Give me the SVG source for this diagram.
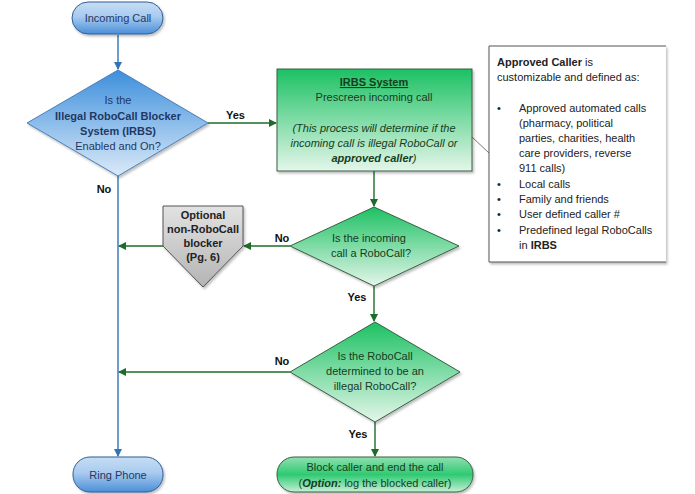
<svg xmlns="http://www.w3.org/2000/svg" width="695" height="494" viewBox="0 0 695 494">
<defs>
<linearGradient id="gBlueTerm" x1="0" y1="0" x2="0" y2="1"><stop offset="0" stop-color="#c6ddf4"/><stop offset="0.45" stop-color="#a9cbef"/><stop offset="1" stop-color="#4a8fd8"/></linearGradient>
<linearGradient id="gBlueDia" x1="0" y1="0" x2="0" y2="1"><stop offset="0" stop-color="#3d8fdc"/><stop offset="1" stop-color="#dbeaf8"/></linearGradient>
<linearGradient id="gGreen" x1="0" y1="0" x2="0" y2="1"><stop offset="0" stop-color="#1cc163"/><stop offset="1" stop-color="#e4f6ea"/></linearGradient>
<linearGradient id="gGreenTerm" x1="0" y1="0" x2="0" y2="1"><stop offset="0" stop-color="#8fe0b0"/><stop offset="0.5" stop-color="#2fca72"/><stop offset="1" stop-color="#c6efd6"/></linearGradient>
<linearGradient id="gGray" x1="0" y1="0" x2="0" y2="1"><stop offset="0" stop-color="#e2e2e2"/><stop offset="1" stop-color="#b4b4b4"/></linearGradient>
<marker id="aBlue" markerWidth="8" markerHeight="8" refX="7" refY="4" orient="auto" markerUnits="userSpaceOnUse"><path d="M0,0 L8,4 L0,8 z" fill="#2e75b6"/></marker>
<marker id="aGreen" markerWidth="8" markerHeight="8" refX="7" refY="4" orient="auto" markerUnits="userSpaceOnUse"><path d="M0,0 L8,4 L0,8 z" fill="#1f6b2a"/></marker>
<filter id="sh" x="-10%" y="-10%" width="125%" height="130%"><feDropShadow dx="1.5" dy="2" stdDeviation="1.2" flood-color="#000" flood-opacity="0.25"/></filter>
</defs>
<style>
text{font-family:"Liberation Sans",Arial,sans-serif;font-size:11px}
.c{text-anchor:middle}
.b{font-weight:bold}
.i{font-style:italic}
.lbl{font-weight:bold;fill:#111}
.nb{fill:#1f3864}
.ng{fill:#163d20}
.bl{stroke:#2e75b6;stroke-width:1.4;fill:none}
.gr{stroke:#1f6b2a;stroke-width:1.4;fill:none}
</style>

<g id="connectors">
<line class="bl" x1="118" y1="35" x2="118" y2="69" marker-end="url(#aBlue)"/>
<line class="bl" x1="118" y1="176" x2="118" y2="456" marker-end="url(#aBlue)"/>
<line class="gr" x1="208" y1="123" x2="276" y2="123" marker-end="url(#aGreen)"/>
<line class="gr" x1="374" y1="171" x2="374" y2="206" marker-end="url(#aGreen)"/>
<line class="gr" x1="290" y1="246" x2="244" y2="246" marker-end="url(#aGreen)"/>
<line class="gr" x1="163" y1="246" x2="119" y2="246" marker-end="url(#aGreen)"/>
<line class="gr" x1="374" y1="286" x2="374" y2="321" marker-end="url(#aGreen)"/>
<line class="gr" x1="290" y1="372" x2="119" y2="372" marker-end="url(#aGreen)"/>
<line class="gr" x1="375" y1="422" x2="375" y2="456" marker-end="url(#aGreen)"/>
<line x1="472" y1="137" x2="489" y2="153" stroke="#777" stroke-width="1"/>
<text class="lbl" x="226" y="119">Yes</text>
<text class="lbl c" x="104" y="193">No</text>
<text class="lbl c" x="282" y="242">No</text>
<text class="lbl c" x="357" y="301">Yes</text>
<text class="lbl c" x="282" y="365">No</text>
<text class="lbl c" x="358" y="438">Yes</text>
</g>

<g id="incoming">
<rect x="72" y="2" width="91" height="32" rx="16" fill="url(#gBlueTerm)" stroke="#2f5f95" stroke-width="1" filter="url(#sh)"/>
<text class="c nb" x="118" y="22">Incoming Call</text>
</g>

<g id="decision-irbs">
<polygon points="118,70 208,123 118,176 27,123" fill="url(#gBlueDia)" stroke="#4a7fb8" stroke-width="1" filter="url(#sh)"/>
<text class="c nb" x="118" y="104">Is the</text>
<text class="c nb b" x="118" y="120">Illegal RoboCall Blocker</text>
<text class="c nb b" x="118" y="135">System (IRBS)</text>
<text class="c nb" x="118" y="150">Enabled and On?</text>
</g>

<g id="irbs-system">
<rect x="277" y="69" width="195" height="102" fill="url(#gGreen)" stroke="#3a5f42" stroke-width="1" filter="url(#sh)"/>
<text class="c ng b" x="374" y="86" text-decoration="underline">IRBS System</text>
<text class="c ng" x="374" y="101">Prescreen incoming call</text>
<text class="c ng i" x="374" y="132">(This process will determine if the</text>
<text class="c ng i" x="374" y="147">incoming call is illegal RoboCall or</text>
<text class="c ng i" x="374" y="162"><tspan class="b">approved caller</tspan>)</text>
</g>

<g id="approved-caller-note">
<path d="M666,46 H489 V262 H666" fill="#fff" stroke="#555" stroke-width="1" filter="url(#sh)"/>
<text x="497" y="66" fill="#222"><tspan class="b">Approved Caller</tspan> is</text>
<text x="497" y="81" fill="#222">customizable and defined as:</text>
<g fill="#222">
<text x="497" y="112">•</text><text x="519" y="112">Approved automated calls</text>
<text x="519" y="127">(pharmacy, political</text>
<text x="519" y="142">parties, charities, health</text>
<text x="519" y="157">care providers, reverse</text>
<text x="519" y="172">911 calls)</text>
<text x="497" y="188">•</text><text x="519" y="188">Local calls</text>
<text x="497" y="203">•</text><text x="519" y="203">Family and friends</text>
<text x="497" y="218">•</text><text x="519" y="218">User defined caller #</text>
<text x="497" y="234">•</text><text x="519" y="234">Predefined legal RoboCalls</text>
<text x="519" y="249">in <tspan class="b">IRBS</tspan></text>
</g>
</g>

<g id="decision-robocall">
<polygon points="374,207 459,246 374,286 290,246" fill="url(#gGreen)" stroke="#3a5f42" stroke-width="1" filter="url(#sh)"/>
<text class="c ng" x="369" y="242">Is the incoming</text>
<text class="c ng" x="371" y="257">call a RoboCall?</text>
</g>

<g id="optional-blocker">
<polygon points="163,206 243,206 243,246 203,287 163,246" fill="url(#gGray)" stroke="#555" stroke-width="1" filter="url(#sh)"/>
<text class="c b" x="203" y="219" fill="#222">Optional</text>
<text class="c b" x="203" y="233" fill="#222">non-RoboCall</text>
<text class="c b" x="203" y="247" fill="#222">blocker</text>
<text class="c b" x="203" y="261" fill="#222">(Pg. 6)</text>
</g>

<g id="decision-illegal">
<polygon points="375,322 460,372 375,422 290,372" fill="url(#gGreen)" stroke="#3a5f42" stroke-width="1" filter="url(#sh)"/>
<text class="c ng" x="375" y="360">Is the RoboCall</text>
<text class="c ng" x="375" y="375">determined to be an</text>
<text class="c ng" x="375" y="390">illegal RoboCall?</text>
</g>

<g id="ring-phone">
<rect x="73" y="457" width="90" height="35" rx="17" fill="url(#gBlueTerm)" stroke="#2f5f95" stroke-width="1" filter="url(#sh)"/>
<text class="c nb" x="118" y="479">Ring Phone</text>
</g>

<g id="block-caller">
<rect x="277" y="457" width="196" height="35" rx="17" fill="url(#gGreenTerm)" stroke="#3a5f42" stroke-width="1" filter="url(#sh)"/>
<text class="c ng" x="375" y="471">Block caller and end the call</text>
<text class="c ng" x="375" y="487">(<tspan class="b i">Option:</tspan> log the blocked caller)</text>
</g>
</svg>
